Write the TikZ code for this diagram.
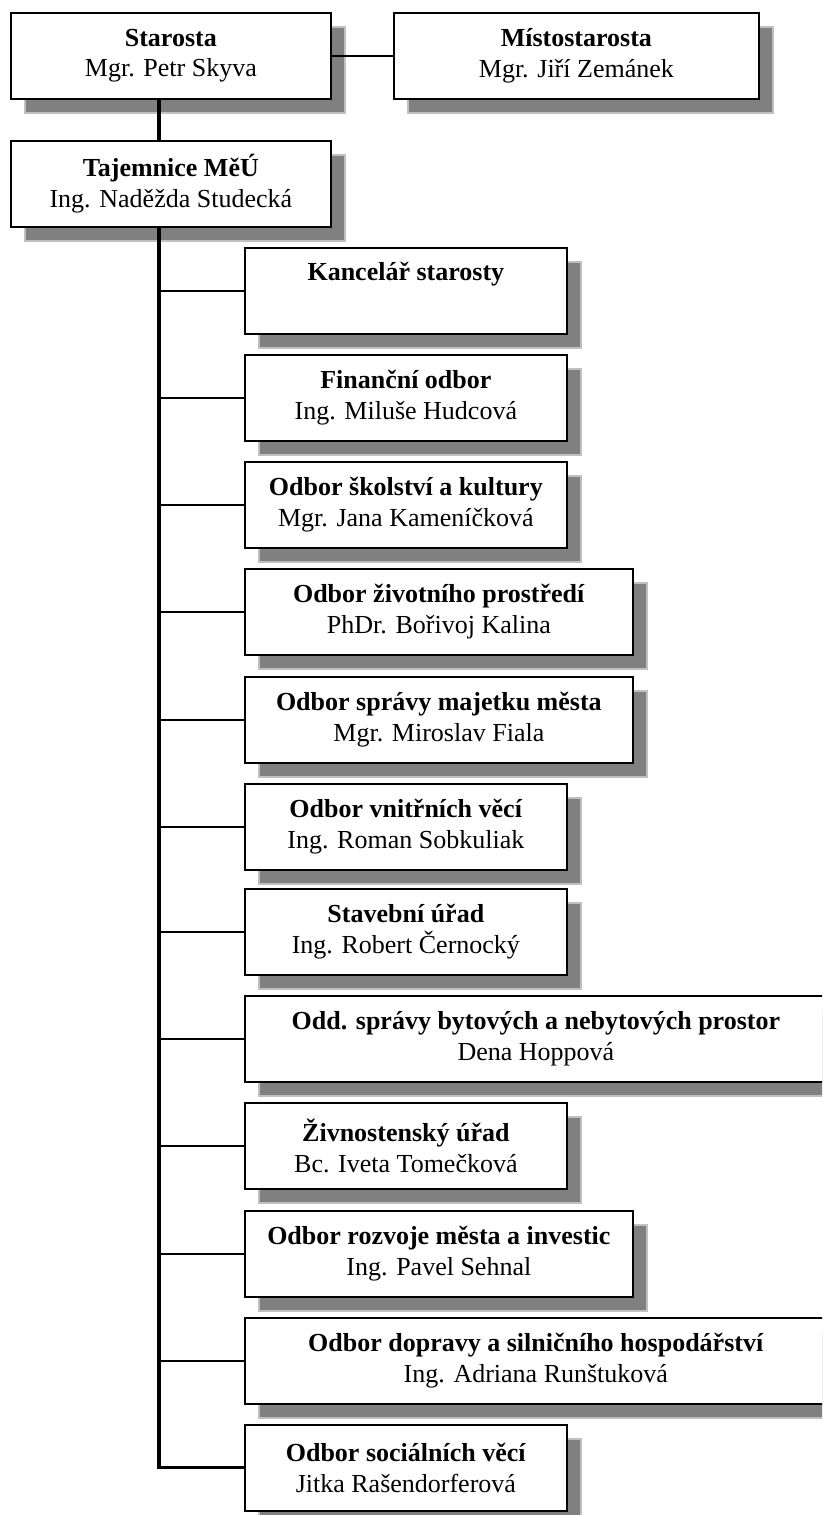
\documentclass[tikz,border=0pt]{standalone}
\usepackage{fontspec}
\setmainfont{Liberation Serif}
\usetikzlibrary{shadows}
\definecolor{shadowgray}{HTML}{808080}
\definecolor{shadowrim}{HTML}{C0C0C0}

\begin{document}
\begin{tikzpicture}[x=0.75pt, y=-0.75pt,
        unit/.style={draw, line width=1.3pt, fill=white, anchor=north west, align=center,
            minimum height=64.5pt, inner sep=0pt, font=\fontsize{19.5}{23}\selectfont,
            drop shadow={shadow xshift=10.5pt, shadow yshift=-10.5pt, fill=shadowgray,
                draw=shadowrim, line width=1.2pt, opacity=1}},
        narrow/.style={unit, minimum width=241.5pt},
        wide/.style={unit, minimum width=291pt},
        widest/.style={unit, minimum width=436.5pt},
        link/.style={line width=1.6pt},
        trunkline/.style={line width=2.4pt}]
        \path[use as bounding box, clip] (0,0) rectangle (822,1515);

        % Top management
        \node[unit, minimum width=240pt] (staro) at (10,12) {\textbf{Starosta}\\ Mgr. Petr Skyva};
        \node[unit, minimum width=273.75pt] (misto) at (393,12) {\textbf{Místostarosta}\\ Mgr. Jiří Zemánek};
        \node[unit, minimum width=240pt] (taj) at (10,140) {\textbf{Tajemnice MěÚ}\\ Ing. Naděžda Studecká};

        % Departments
        \node[narrow] (kanc) at (244,247) {\textbf{Kancelář starosty}\\ \strut};
        \node[narrow] (fin) at (244,354) {\textbf{Finanční odbor}\\ Ing. Miluše Hudcová};
        \node[narrow] (skol) at (244,461) {\textbf{Odbor školství a kultury}\\ Mgr. Jana Kameníčková};
        \node[wide] (zp) at (244,568) {\textbf{Odbor životního prostředí}\\ PhDr. Bořivoj Kalina};
        \node[wide] (maj) at (244,676) {\textbf{Odbor správy majetku města}\\ Mgr. Miroslav Fiala};
        \node[narrow] (vnitr) at (244,783) {\textbf{Odbor vnitřních věcí}\\ Ing. Roman Sobkuliak};
        \node[narrow] (stav) at (244,888) {\textbf{Stavební úřad}\\ Ing. Robert Černocký};
        \node[widest] (byt) at (244,995) {\textbf{Odd. správy bytových a nebytových prostor}\\ Dena Hoppová};
        \node[narrow] (ziv) at (244,1102) {\textbf{Živnostenský úřad}\\ Bc. Iveta Tomečková};
        \node[wide] (rozv) at (244,1210) {\textbf{Odbor rozvoje města a investic}\\ Ing. Pavel Sehnal};
        \node[widest] (dopr) at (244,1317) {\textbf{Odbor dopravy a silničního hospodářství}\\ Ing. Adriana Runštuková};
        \node[narrow] (soc) at (244,1424) {\textbf{Odbor sociálních věcí}\\ Jitka Rašendorferová};

        % Connectors
        \coordinate (trunk) at (159,0);
        \draw[link] (staro.east) -- (misto.west);
        \draw[trunkline] (trunk |- staro.south) -- (trunk |- taj.north);
        \draw[trunkline] (trunk |- taj.south) -- (trunk |- soc.west) -- (soc.west);
        \draw[link] (trunk |- kanc.west) -- (kanc.west);
        \draw[link] (trunk |- fin.west) -- (fin.west);
        \draw[link] (trunk |- skol.west) -- (skol.west);
        \draw[link] (trunk |- zp.west) -- (zp.west);
        \draw[link] (trunk |- maj.west) -- (maj.west);
        \draw[link] (trunk |- vnitr.west) -- (vnitr.west);
        \draw[link] (trunk |- stav.west) -- (stav.west);
        \draw[link] (trunk |- byt.west) -- (byt.west);
        \draw[link] (trunk |- ziv.west) -- (ziv.west);
        \draw[link] (trunk |- rozv.west) -- (rozv.west);
        \draw[link] (trunk |- dopr.west) -- (dopr.west);
    \end{tikzpicture}
\end{document}
